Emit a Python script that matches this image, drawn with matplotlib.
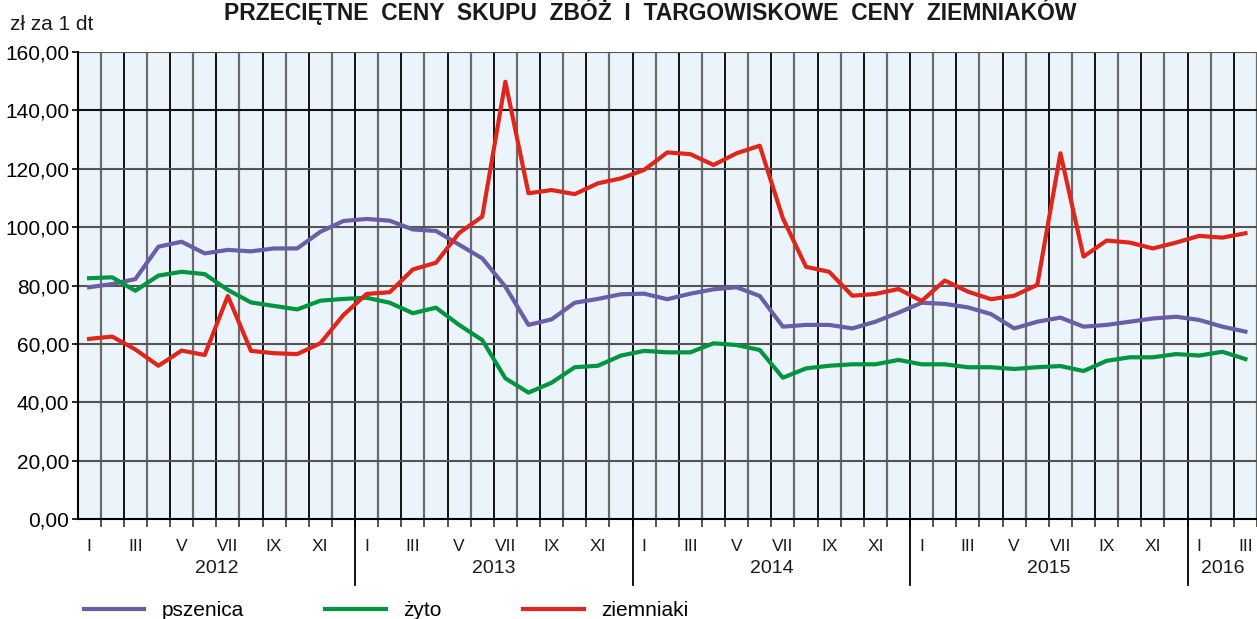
import numpy as np
import matplotlib.pyplot as plt
from matplotlib.lines import Line2D

# przecietne ceny, zl za 1 dt, I 2012 - III 2016
pszenica = [79.4, 80.5, 82.2, 93.3, 95.0, 91.0, 92.2, 91.7, 92.7, 92.7, 98.4, 102.1,
            102.8, 102.2, 99.2, 98.7, 94.0, 89.3, 79.6, 66.5, 68.4, 74.1, 75.4, 77.0,
            77.2, 75.3, 77.2, 78.7, 79.4, 76.4, 65.9, 66.5, 66.5, 65.3, 67.6, 70.7,
            74.1, 73.7, 72.5, 70.2, 65.3, 67.6, 69.0, 65.9, 66.5, 67.6, 68.7, 69.3,
            68.2, 65.9, 64.2]
zyto = [82.5, 82.8, 78.2, 83.4, 84.7, 83.9, 78.5, 74.2, 73.0, 71.8, 74.8, 75.4,
        75.8, 74.1, 70.5, 72.4, 66.5, 61.3, 48.2, 43.3, 46.7, 52.0, 52.5, 56.0,
        57.6, 57.1, 57.1, 60.2, 59.6, 57.9, 48.4, 51.6, 52.5, 53.0, 53.0, 54.5,
        53.0, 53.0, 52.0, 52.0, 51.4, 52.0, 52.4, 50.7, 54.2, 55.4, 55.4, 56.5,
        56.0, 57.3, 54.8]
ziemniaki = [61.7, 62.5, 58.1, 52.5, 57.7, 56.2, 76.4, 57.6, 56.8, 56.5, 60.2, 69.9,
             77.1, 77.7, 85.5, 87.8, 98.0, 103.6, 149.8, 111.6, 112.7, 111.3, 115.0, 116.7,
             119.6, 125.6, 125.0, 121.3, 125.3, 127.9, 103.0, 86.4, 84.7, 76.5, 77.1, 78.8,
             74.7, 81.7, 77.9, 75.3, 76.5, 80.2, 125.3, 89.9, 95.4, 94.7, 92.7, 94.7,
             97.0, 96.4, 97.9]
lata = ['2012', '2013', '2014', '2015', '2016']
miesiace = ['I', 'II', 'III', 'IV', 'V', 'VI', 'VII', 'VIII', 'IX', 'X', 'XI', 'XII']

n = len(pszenica)
x = np.arange(n)

plt.rcParams['font.family'] = ['Liberation Sans', 'DejaVu Sans']

W, H = 1257, 619
fig = plt.figure(figsize=(W/100, H/100), dpi=100)
ax = fig.add_axes([77.5/W, (H-519)/H, (W-77.5)/W, 467/H])
ax.set_facecolor('#ebf4fa')

# siatka
for k in range(1, n+1):
    kol = '#000000' if k % 2 == 0 else '#6b6b6b'
    ax.axvline(k-0.5, color=kol, lw=1.3 if k % 2 == 0 else 1.6, zorder=1)
for v in range(20, 161, 20):
    ax.axhline(v, color='#555555' if v != 140 else '#111111', lw=1.5, zorder=1)

ax.plot(x, pszenica, color='#6a5ea8', lw=3, zorder=3, label='pszenica')
ax.plot(x, zyto, color='#00963f', lw=3, zorder=3, label='żyto')
ax.plot(x, ziemniaki, color='#e1251b', lw=3, zorder=4, label='ziemniaki')

ax.set_xlim(-0.5, 50.05)
ax.set_ylim(0, 160)
ax.set_yticks(range(0, 161, 20))
ax.set_yticklabels(['%d,00' % v for v in range(0, 161, 20)], fontsize=15)
ax.tick_params(axis='y', length=4, width=1.2, pad=2, color='black')
ax.set_xticks(np.arange(0.5, n, 1))
ax.set_xticklabels([])
ax.tick_params(axis='x', length=6, width=1.2, color='#333333')
ax.spines['top'].set_visible(False)
ax.spines['right'].set_visible(False)
ax.spines['left'].set_linewidth(1.5)
ax.spines['bottom'].set_linewidth(1.5)

tr = ax.get_xaxis_transform()
for i in range(n):
    if i % 2 == 0:
        ax.text(i, -0.058, miesiace[i % 12], transform=tr, ha='center', va='center',
                fontsize=12.5, color='#1a1a1a')
for j, rok in enumerate(lata):
    srodek = 12*j + 5.5 if j < 4 else 49
    ax.text(srodek, -0.107, rok, transform=tr, ha='center', va='center',
            fontsize=14, color='#1a1a1a')
    if j > 0:
        ax.add_line(Line2D([12*j-0.5, 12*j-0.5], [0, -0.141], transform=tr,
                           color='black', lw=1.3, clip_on=False))

fig.text(650/W, 1-20/H, 'PRZECIĘTNE  CENY  SKUPU  ZBÓŻ  I  TARGOWISKOWE  CENY  ZIEMNIAKÓW',
         ha='center', va='baseline', fontsize=16.5, fontweight='bold', color='#1a1a1a')
fig.text(10/W, 1-24/H, 'zł za 1 dt', ha='left', va='center', fontsize=15, color='#1a1a1a')

fig.legend(loc='center left', bbox_to_anchor=(65/W, 1-611/H), ncol=3, frameon=False,
           fontsize=15, handlelength=2.9, handletextpad=0.85, columnspacing=3.9)

fig.savefig('out.png', dpi=100)
